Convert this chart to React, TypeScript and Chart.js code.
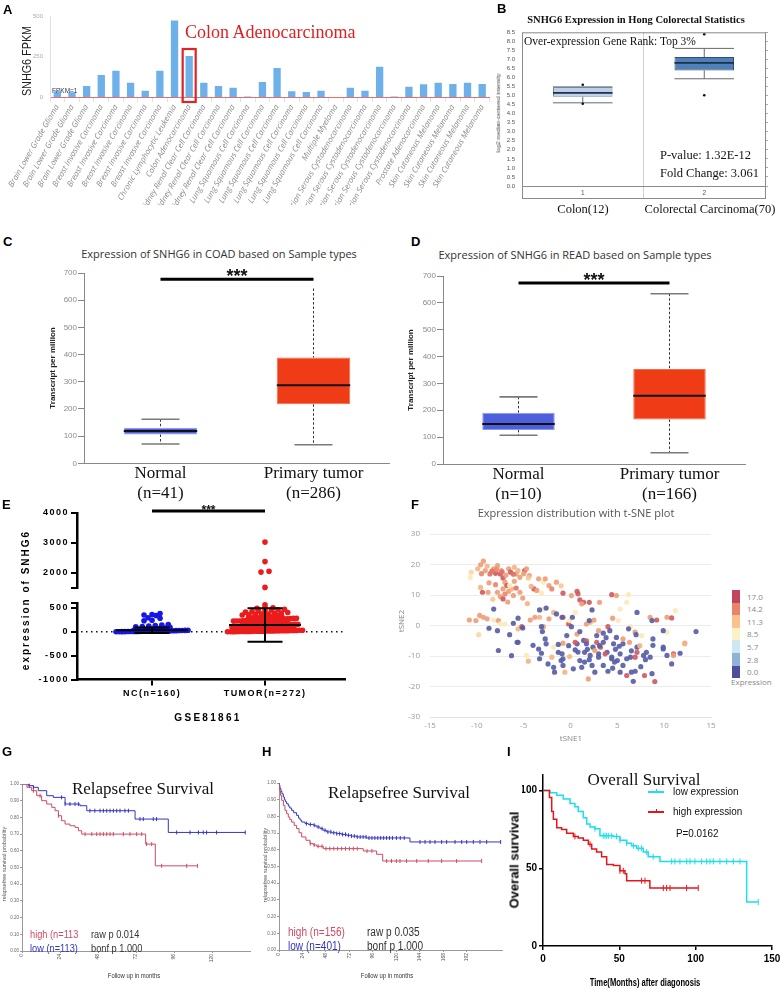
import React, { useEffect, useRef } from 'react';
import { Chart, registerables } from 'chart.js';
Chart.register(...registerables);

const SANS = '"Liberation Sans", Arial, sans-serif';
const SERIF = '"Liberation Serif", "Times New Roman", serif';
const OPEN = '"Open Sans", "Liberation Sans", sans-serif';

/* ---------------- Panel A ---------------- */
const aCategories = [
  'Brain Lower Grade Glioma', 'Brain Lower Grade Glioma', 'Brain Lower Grade Glioma',
  'Breast Invasive Carcinoma', 'Breast Invasive Carcinoma', 'Breast Invasive Carcinoma', 'Breast Invasive Carcinoma', 'Breast Invasive Carcinoma',
  'Chronic Lymphocytic Leukemia', 'Colon Adenocarcinoma',
  'Kidney Renal Clear Cell Carcinoma', 'Kidney Renal Clear Cell Carcinoma', 'Kidney Renal Clear Cell Carcinoma',
  'Lung Squamous Cell Carcinoma', 'Lung Squamous Cell Carcinoma', 'Lung Squamous Cell Carcinoma', 'Lung Squamous Cell Carcinoma', 'Lung Squamous Cell Carcinoma', 'Lung Squamous Cell Carcinoma',
  'Multiple Myeloma',
  'Ovarian Serous Cystadenocarcinoma', 'Ovarian Serous Cystadenocarcinoma', 'Ovarian Serous Cystadenocarcinoma', 'Ovarian Serous Cystadenocarcinoma', 'Ovarian Serous Cystadenocarcinoma',
  'Prostate Adenocarcinoma',
  'Skin Cutaneous Melanoma', 'Skin Cutaneous Melanoma', 'Skin Cutaneous Melanoma', 'Skin Cutaneous Melanoma',
];
const aValues = [35, 30, 68, 136, 162, 88, 39, 162, 472, 253, 88, 68, 57, 3, 93, 179, 35, 31, 39, 0, 57, 39, 187, 3, 63, 78, 88, 80, 88, 80];
const aYTicks = [0, 250, 500];
const aHighlightIndex = 9;

/* ---------------- Panel B ---------------- */
const bGroups = ['1', '2'];
const bQ1 = [4.93, 6.39];
const bQ3 = [5.48, 7.13];
const bMedian = [5.15, 6.81];
const bLowerWhisker = [4.6, 5.93];
const bUpperWhisker = [5.48, 7.61];
const bOutlierHigh = [5.6, 8.39];
const bOutlierLow = [4.55, 5.02];
const bYTicks = [0, 0.5, 1, 1.5, 2, 2.5, 3, 3.5, 4, 4.5, 5, 5.5, 6, 6.5, 7, 7.5, 8, 8.5];

/* ---------------- Panel C ---------------- */
const cGroups = [['Normal', '(n=41)'], ['Primary tumor', '(n=286)']];
const cQ1 = [106, 217];
const cQ3 = [131, 389];
const cMedian = [119, 287];
const cLowerWhisker = [71, 68];
const cUpperWhisker = [162, 643];
const cUpperCap = [true, false];
const cSignificance = 677;

/* ---------------- Panel D ---------------- */
const dGroups = [['Normal', '(n=10)'], ['Primary tumor', '(n=166)']];
const dQ1 = [127, 166];
const dQ3 = [191, 354];
const dMedian = [149, 254];
const dLowerWhisker = [107, 42];
const dUpperWhisker = [250, 634];
const dUpperCap = [true, true];
const dSignificance = 674;
const tpmTicks = [0, 100, 200, 300, 400, 500, 600, 700];

/* ---------------- Panel E ---------------- */
const eGroups = ['NC(n=160)', 'TUMOR(n=272)'];
const eNcValues = [
  380, 360, 350, 340, 290, 280, 240, 230, 150, 140, 130, 120, 110, 100,
  90, 80, 75, 70, 65, 60, 55, 50, 45, 42, 40, 38, 36,
  30, 28, 25, 24, 22, 20, 18, 17, 16, 15, 14, 12, 11, 10, 9, 8, 7, 6, 5, 4, 3, 2, 1, 0, 0,
];
const eTumorValues = [
  3030, 2380, 2060, 2030, 1520,
  560, 500, 495, 490, 470, 460, 450, 440, 430, 420, 410, 400, 390, 380, 370,
  367, 362, 355, 349, 341, 336, 327, 323, 314, 311, 305, 302,
  298, 293, 290, 284, 281, 278, 276, 272, 268, 265, 262, 258, 255, 252, 249, 246, 243, 241, 237, 235,
  233, 231, 228, 225, 223, 221, 216, 213, 207, 204, 199, 196, 191, 187, 183, 178, 176, 171,
  166, 163, 159, 157, 155, 152, 150, 148, 146, 143, 141, 138, 136, 133, 131, 127, 124, 122, 119, 117, 115, 112, 108, 104, 101, 99, 97, 94,
  90, 86, 83, 79, 76, 71, 69, 65, 62, 58, 55, 51, 48, 45, 43, 39, 37, 33, 32,
  31, 29, 27, 26, 24, 22, 21, 19, 17, 16, 14, 13, 12, 11, 10, 9, 8, 7, 6, 5, 4, 3, 2, 1, 0, 0,
];
const eMeans = [30, 140];
const eSDs = [60, 350];
const eTopTicks = [1500, 2000, 3000, 4000];
const eBottomTicks = [-1000, -500, 0, 500, 600];
const eSignificance = 4065;

/* ---------------- Panel F ---------------- */
const fXTicks = [-15, -10, -5, 0, 5, 10, 15];
const fYTicks = [-30, -20, -10, 0, 10, 20, 30];
const fLegendValues = [17.0, 14.2, 11.3, 8.5, 5.7, 2.8, 0.0];
const fLegendColors = ['#c2455c', '#e9846a', '#f8c38c', '#fcf1c4', '#cfe7f1', '#8eb3d6', '#4e4c9c'];
// [tSNE1, tSNE2, expression]
const tsnePoints: number[][] = [
  [-9.3, 21.1, 13], [-9.6, 19.9, 13], [-9.9, 18.6, 12], [-10.6, 17.5, 10], [-10.7, 15.8, 9], [-9.1, 18.0, 13], [-8.6, 16.9, 15], [-8.2, 18.6, 13],
  [-7.8, 19.6, 13], [-8.0, 17.1, 16], [-7.5, 16.9, 16], [-7.4, 18.0, 13], [-7.2, 15.6, 16], [-6.6, 18.6, 13], [-6.4, 17.5, 16], [-6.0, 19.1, 12],
  [-5.8, 16.9, 13], [-5.4, 15.8, 13], [-4.9, 18.0, 16], [-4.7, 18.6, 13], [-4.4, 16.4, 13], [-7.0, 14.2, 13], [-6.8, 13.1, 16], [-7.2, 12.0, 13],
  [-6.6, 11.2, 13], [-6.3, 12.0, 12], [-6.1, 9.8, 13], [-7.5, 9.5, 13], [-7.8, 10.9, 13], [-8.8, 10.9, 13], [-9.4, 10.9, 16], [-7.2, 8.7, 16],
  [-6.5, 13.1, 9], [-5.4, 10.9, 13], [-5.1, 9.0, 13], [-3.9, 12.0, 16], [-3.4, 15.3, 13], [-2.9, 14.2, 9], [-2.7, 15.3, 13], [-2.3, 13.1, 13],
  [-3.1, 10.6, 9], [-1.5, 14.2, 13], [-0.8, 10.6, 16], [0.1, 9.8, 13], [0.7, 11.2, 16], [0.8, 10.4, 16], [1.0, 8.4, 16], [1.4, 7.6, 16],
  [2.0, 7.6, 16], [1.2, 7.1, 13], [3.1, 7.6, 13], [4.4, 10.1, 16], [4.9, 9.8, 13], [6.2, 10.1, 9], [6.0, 7.6, 9], [5.3, 5.4, 9],
  [-9.5, 17.0, 14], [-8.9, 19.5, 12], [-8.4, 17.8, 15], [-7.9, 18.3, 14], [-7.3, 17.6, 15], [-6.9, 16.5, 13], [-6.1, 16.8, 15], [-5.6, 18.0, 12],
  [-5.0, 17.0, 13], [-4.5, 15.6, 11], [-8.7, 14.0, 13], [-9.6, 12.5, 12], [-8.0, 13.4, 14], [-6.0, 14.5, 13], [-4.2, 12.8, 12], [-3.6, 11.5, 13],
  [-5.8, 12.3, 15], [-7.0, 10.3, 14], [-8.3, 8.6, 11], [-6.7, 7.7, 13], [-4.6, 7.2, 12], [-2.0, 12.0, 14], [-1.0, 13.0, 11],
  [-10.8, 1.8, 13], [-10.1, 1.6, 13], [-9.7, 3.3, 13], [-9.3, 2.7, 13], [-9.8, -3.0, 10], [-8.9, 2.2, 13], [-8.2, 1.8, 9], [-7.7, 1.6, 13],
  [-7.5, 0.5, 9], [-7.0, 0.5, 9], [-5.6, -1.1, 12], [-5.2, -0.4, 16], [-4.3, 1.8, 13], [-3.8, 2.7, 13], [-3.3, 2.7, 12], [-2.9, -0.4, 13],
  [-2.3, 2.2, 13], [-2.9, 5.4, 9], [-1.8, 4.3, 12], [-0.8, 2.7, 16], [-0.2, 0.5, 16], [-0.1, 1.6, 9], [0.5, 4.3, 9], [1.7, 0.5, 13],
  [2.1, 1.1, 12], [2.5, 1.8, 13], [3.0, -1.7, 13], [4.0, -0.4, 16], [4.5, 2.4, 13], [5.1, 1.6, 9], [6.4, -0.4, 9], [7.6, -3.3, 9],
  [6.9, -2.2, 13], [8.5, 2.7, 13], [9.2, 1.8, 16], [10.3, 2.7, 13], [10.8, 2.5, 16], [11.2, 4.9, 9], [10.3, -2.2, 9], [12.2, -5.8, 13],
  [-8.2, 5.4, 0.5], [-8.7, -0.9, 0.5], [-7.8, -1.7, 0.5], [-6.1, 0.7, 0.5], [-5.6, 2.4, 0.5], [-5.1, -0.8, 0.5], [-3.3, 5.1, 0.5], [-2.6, 5.7, 0.5],
  [-3.1, -0.4, 0.5], [-1.5, 3.8, 0.5], [-0.9, 2.7, 0.5], [0.2, 2.7, 0.5], [0.1, -0.4, 0.5], [2.3, 5.1, 0.5], [2.0, 1.6, 0.5], [4.2, -1.7, 0.5],
  [7.1, 4.3, 0.5], [8.7, 1.6, 0.5], [6.2, -1.1, 0.5], [8.8, -4.4, 0.5], [9.9, -1.7, 0.5], [13.4, -2.0, 0.5], [-2.7, -4.4, 0.5], [-5.6, -5.5, 0.5],
  [-7.7, -8.2, 0.5], [-6.3, -9.9, 0.5], [-3.4, -7.7, 0.5], [-1.3, -8.8, 0.5], [-0.4, -3.3, 0.5], [0.7, -6.0, 0.5], [1.4, -4.9, 0.5], [2.8, -3.3, 0.5],
  [3.5, -5.5, 0.5], [4.9, -3.9, 0.5], [5.6, -6.0, 0.5], [7.1, -7.1, 0.5], [8.1, -8.8, 0.5], [9.9, -7.7, 0.5], [2.4, -7.1, 0.5], [1.5, -8.8, 0.5],
  [3.0, -9.3, 0.5], [3.9, -8.8, 0.5], [4.4, -10.4, 0.5], [6.4, -10.4, 0.5],
  [-0.8, -5.8, 13], [0.7, -2.8, 13], [1.7, -5.0, 16], [3.2, -7.1, 16], [5.6, -4.4, 13], [7.1, -8.8, 16], [-1.8, -7.1, 9], [11.0, -9.3, 16],
  [-2.6, -6.0, 0.5], [-1.3, -6.2, 0.5], [-0.2, -6.6, 0.5], [0.5, -5.5, 16], [1.7, -6.0, 0.5], [2.8, -5.5, 16], [3.1, -6.6, 0.5], [4.6, -6.0, 0.5],
  [6.3, -5.5, 13], [7.4, -6.6, 12], [9.9, -7.1, 0.5], [12.2, -6.0, 12], [-3.1, -9.1, 0.5], [-2.0, -10.4, 12], [-0.9, -9.3, 0.5], [-0.1, -10.2, 12],
  [0.8, -8.7, 0.5], [2.1, -9.8, 0.5], [2.6, -8.2, 13], [3.0, -10.4, 0.5], [3.7, -9.3, 16], [4.4, -10.9, 0.5], [5.3, -9.3, 0.5], [6.0, -10.9, 0.5],
  [6.9, -10.4, 16], [7.8, -9.8, 0.5], [8.5, -10.4, 0.5], [10.8, -12.6, 0.5], [11.0, -9.8, 13], [11.7, -9.1, 0.5], [-4.5, -11.7, 12], [-3.3, -10.9, 0.5],
  [-2.4, -12.6, 0.5], [-1.8, -13.7, 0.5], [-0.8, -13.1, 0.5], [-1.7, -15.3, 0.5], [-0.6, -15.3, 12], [0.3, -14.2, 0.5], [1.2, -13.7, 0.5], [1.5, -12.0, 0.5],
  [2.3, -13.1, 0.5], [1.9, -17.5, 13], [2.6, -15.3, 0.5], [3.5, -13.1, 0.5], [4.0, -15.0, 0.5], [4.7, -12.0, 0.5], [5.6, -13.1, 0.5], [5.3, -15.3, 0.5],
  [6.0, -16.4, 16], [6.5, -15.3, 0.5], [6.9, -15.0, 0.5], [6.7, -18.3, 0.5], [7.9, -16.4, 16], [8.7, -15.8, 0.5], [9.0, -18.4, 16], [10.3, -9.8, 0.5],
  [-4.7, -9.8, 9], [-0.8, -10.9, 0.5], [-5.7, -5.5, 0.5],
  [1.0, -11.5, 0.5], [5.0, -11.5, 0.5], [7.5, -13.5, 0.5], [8.0, -11.2, 0.5], [4.5, -14.0, 0.5], [-1.0, -11.5, 0.5], [0.5, -8.0, 0.5], [1.8, -7.8, 0.5],
  [4.8, -7.8, 0.5], [6.5, -8.3, 0.5], [5.2, -6.8, 0.5], [8.8, -6.5, 0.5], [-4.0, -6.5, 0.5], [-6.5, -3.0, 0.5], [-3.0, -2.0, 0.5], [1.0, -2.0, 0.5],
  [3.5, -2.5, 0.5], [7.0, -3.0, 0.5], [3.8, -4.0, 0.5], [2.0, -11.2, 0.5],
];

/* ---------------- Panel G ---------------- */
const gLowTimes = [0, 4, 7.2, 10.3, 15.6, 19.8, 27.2, 36.6, 40.9, 71.4, 92.4, 141];
const gLowSurv = [1.0, 0.99, 0.98, 0.96, 0.93, 0.92, 0.88, 0.87, 0.84, 0.79, 0.71, 0.71];
const gHighTimes = [0, 3.1, 6.1, 9.3, 12.4, 15.6, 18.8, 20.9, 23, 25, 27.2, 30.3, 33.5, 35.6, 37.7, 78.1, 84.2, 110.9];
const gHighSurv = [1.0, 0.98, 0.96, 0.93, 0.9, 0.88, 0.86, 0.84, 0.81, 0.78, 0.76, 0.75, 0.74, 0.72, 0.7, 0.64, 0.51, 0.51];
const gLowCensor = [4.6, 7.2, 25, 27.2, 30.3, 33.5, 35.6, 42.9, 46, 49.3, 51.4, 53.5, 55.6, 57.7, 59.8, 61.9, 65, 67.2, 74.5, 76.6, 82.9, 85, 97.7, 106.1, 111.4, 114.5, 116.6, 122.9, 141];
const gHighCensor = [7.2, 11.4, 23, 39.8, 44.1, 47.2, 49.3, 51.4, 53.5, 55.6, 57.7, 64, 68.2, 72.4, 75.6, 78.7, 81.9, 88.2, 104, 110.9];
const gXTicks = [0, 24, 48, 72, 96, 120];

/* ---------------- Panel H ---------------- */
const hLowTimes = [0, 0.5, 1, 2, 3, 4.4, 5.5, 6.5, 7.8, 9.5, 11, 12.9, 15, 18, 20, 21.5, 23.2, 26.6, 30, 35.1, 38, 41.9, 45, 48.7, 54, 59, 64, 69.2, 74, 79.4, 89.6, 133.9, 226.6];
const hLowSurv = [1.0, 0.985, 0.966, 0.95, 0.935, 0.916, 0.9, 0.888, 0.876, 0.862, 0.85, 0.836, 0.822, 0.806, 0.79, 0.778, 0.766, 0.757, 0.752, 0.747, 0.737, 0.727, 0.717, 0.707, 0.702, 0.697, 0.692, 0.687, 0.682, 0.677, 0.671, 0.647, 0.647];
const hHighTimes = [0, 0.3, 1.5, 2.7, 4.5, 6.1, 7.8, 9.5, 11, 12.9, 15.5, 18, 20.5, 23.2, 27.5, 31.7, 35, 38.5, 45.3, 86.2, 99.8, 106, 207.2];
const hHighSurv = [1.0, 0.956, 0.926, 0.896, 0.866, 0.836, 0.816, 0.796, 0.781, 0.766, 0.746, 0.727, 0.702, 0.677, 0.657, 0.637, 0.629, 0.621, 0.607, 0.593, 0.573, 0.533, 0.533];
const hLowCensor = [28, 32, 36, 40, 44, 47, 50, 53, 56, 59, 62, 65, 68, 71, 74, 77, 80, 83, 86, 89, 92, 95, 98, 101, 104, 107, 110, 113, 116, 120, 124, 128, 144.2, 149.3, 154.4, 159.5, 166.3, 171.4, 180, 186.8, 191.9, 198.7, 205.5, 212.3, 226.6];
const hHighCensor = [32, 36, 40, 44, 48, 52, 56, 60, 64, 68, 72, 76, 80, 90, 95, 110, 115, 120, 123.7, 130.4, 140.8, 152.6, 166.3, 181.6, 207.2];
const hXTicks = [0, 24, 48, 72, 96, 120, 144, 168, 192];
const kmYTicks = [0, 0.1, 0.2, 0.3, 0.4, 0.5, 0.6, 0.7, 0.8, 0.9, 1.0];

/* ---------------- Panel I ---------------- */
const iLowTimes = [0, 1.3, 4.6, 9, 13.3, 17.7, 20.9, 23.1, 26.4, 28.6, 30.8, 34, 37.3, 46.1, 50.4, 54.8, 58, 61.3, 65.7, 68.9, 76.6, 133.4, 141];
const iLowSurv = [100, 100, 98.6, 97, 94.6, 91.6, 89.6, 86.5, 82.5, 78.5, 76.5, 75.5, 70.9, 70.5, 68.1, 66.1, 64.5, 62.9, 60.4, 57.4, 54.4, 28.3, 28.3];
const iHighTimes = [0, 4.2, 5.7, 6.8, 9, 12.2, 15.5, 19.9, 23.1, 26.4, 29.7, 31.9, 35.1, 38.4, 41.7, 46.1, 50.4, 53.7, 54.8, 70, 101.7];
const iHighSurv = [100, 95.6, 86.5, 81.5, 76.1, 74.9, 72.5, 70.5, 69.5, 68.1, 65.5, 62.4, 60.4, 57.4, 52.4, 51.8, 48.4, 46.4, 42, 37.3, 37.3];
const iLowCensor = [34, 39.5, 40.6, 41.7, 42.8, 45, 48.2, 50.4, 54.8, 59.2, 62.4, 64.6, 67.9, 72.2, 84.3, 86.4, 89.7, 94.1, 96.3, 99.5, 103.9, 107.2, 109.4, 111.6, 115.9, 120.3, 124.7, 129, 141];
const iHighCensor = [20.9, 30.8, 50.4, 52.6, 64.6, 66.8, 78.8, 81, 83.2, 94.1, 101.7];
const iXTicks = [0, 50, 100, 150];
const iYTicks = [0, 50, 100];

/* ---------------- helpers ---------------- */
const fixY = (w: number) => (s: any) => { s.width = w; s.paddingTop = 0; s.paddingBottom = 0; };
const fixX = (h: number) => (s: any) => { s.height = h; s.paddingLeft = 0; s.paddingRight = 0; };
const setTicks = (vals: number[]) => (s: any) => { s.ticks = vals.map((v) => ({ value: v })); };
const NO_GRID = { display: false, drawTicks: false };

function baseOptions(padding: any, scales: any) {
  return {
    responsive: false,
    animation: false,
    events: [],
    layout: { padding },
    plugins: { legend: { display: false }, tooltip: { enabled: false } },
    scales,
  };
}

function boxWhiskerPlugin(o: any) {
  return {
    id: 'boxWhisker',
    beforeDatasetsDraw(chart: any) {
      const ctx = chart.ctx, ys = chart.scales.y;
      chart.getDatasetMeta(0).data.forEach((bar: any, i: number) => {
        const top = Math.min(bar.y, bar.base), bottom = Math.max(bar.y, bar.base);
        const hi = ys.getPixelForValue(o.upper[i]), lo = ys.getPixelForValue(o.lower[i]);
        const half = o.capHalf == null ? bar.width / 2 : o.capHalf;
        ctx.save();
        ctx.strokeStyle = o.whiskerColor; ctx.lineWidth = o.whiskerWidth; ctx.setLineDash(o.dash);
        ctx.beginPath();
        ctx.moveTo(bar.x, hi); ctx.lineTo(bar.x, top);
        ctx.moveTo(bar.x, bottom); ctx.lineTo(bar.x, lo);
        ctx.stroke();
        ctx.setLineDash([]);
        ctx.strokeStyle = o.capColor; ctx.lineWidth = o.capWidth;
        ctx.beginPath();
        if (!o.upperCap || o.upperCap[i]) { ctx.moveTo(bar.x - half, hi); ctx.lineTo(bar.x + half, hi); }
        ctx.moveTo(bar.x - half, lo); ctx.lineTo(bar.x + half, lo);
        ctx.stroke();
        ctx.restore();
      });
    },
    afterDatasetsDraw(chart: any) {
      const ctx = chart.ctx, ys = chart.scales.y;
      chart.getDatasetMeta(0).data.forEach((bar: any, i: number) => {
        const m = ys.getPixelForValue(o.median[i]);
        ctx.save();
        ctx.strokeStyle = o.medianColor; ctx.lineWidth = o.medianWidth;
        ctx.beginPath(); ctx.moveTo(bar.x - bar.width / 2, m); ctx.lineTo(bar.x + bar.width / 2, m); ctx.stroke();
        ctx.restore();
      });
    },
  };
}

function sigPlugin(o: any) {
  return {
    id: 'sig',
    afterDraw(chart: any) {
      const ctx = chart.ctx;
      const x0 = chart.scales.x.getPixelForValue(0), x1 = chart.scales.x.getPixelForValue(1);
      const y = chart.scales.y.getPixelForValue(o.value);
      ctx.save();
      ctx.strokeStyle = '#000'; ctx.lineWidth = o.lineWidth;
      ctx.beginPath(); ctx.moveTo(x0, y); ctx.lineTo(x1, y); ctx.stroke();
      ctx.fillStyle = '#111'; ctx.font = o.font; ctx.textAlign = 'center'; ctx.textBaseline = 'alphabetic';
      ctx.fillText(o.text, (x0 + x1) / 2, y + o.dy);
      ctx.restore();
    },
  };
}

const letterSpacingPlugin = (sp: string) => ({
  id: 'ls',
  beforeDraw(c: any) { c.ctx.letterSpacing = sp; },
  afterDraw(c: any) { c.ctx.letterSpacing = '0px'; },
});

// Column-scatter layout: values are grouped in rows of ~3px and spread sideways around the group centre.
function dotColumn(values: number[], center: number, yUnitsPerPx: number, xUnitsPerPx: number) {
  const binU = 3 * yUnitsPerPx;
  const bins = new Map<number, number[]>();
  values.forEach((v) => {
    const b = Math.floor(v / binU + 0.5);
    if (!bins.has(b)) bins.set(b, []);
    (bins.get(b) as number[]).push(v);
  });
  const out: { x: number; y: number }[] = [];
  bins.forEach((vs) => {
    const n = vs.length;
    const sp = (n <= 3 ? 8 : n <= 8 ? 6.5 : 3) * xUnitsPerPx;
    vs.sort((a, b) => a - b).forEach((v, i) => out.push({ x: center + (i - (n - 1) / 2) * sp, y: v }));
  });
  return out;
}

function hexToRgb(h: string) { const n = parseInt(h.slice(1), 16); return [(n >> 16) & 255, (n >> 8) & 255, n & 255]; }
function tsneColor(e: number) {
  const vs = fLegendValues, cs = fLegendColors;
  if (e >= vs[0]) { const c = hexToRgb(cs[0]); return `rgba(${c[0]},${c[1]},${c[2]},0.92)`; }
  for (let i = 0; i < vs.length - 1; i++) {
    const hi = vs[i], lo = vs[i + 1];
    if (e >= lo) {
      const t = (e - lo) / (hi - lo);
      const a = hexToRgb(cs[i + 1]), b = hexToRgb(cs[i]);
      const m = a.map((v, k) => Math.round(v + (b[k] - v) * t));
      return `rgba(${m[0]},${m[1]},${m[2]},0.92)`;
    }
  }
  const c = hexToRgb(cs[cs.length - 1]);
  return `rgba(${c[0]},${c[1]},${c[2]},0.92)`;
}

function stepAt(ts: number[], ss: number[], t: number) {
  let s = ss[0];
  for (let i = 0; i < ts.length; i++) if (ts[i] <= t) s = ss[i];
  return s;
}
const kmLine = (ts: number[], ss: number[]) => ts.map((t, i) => ({ x: t, y: ss[i] }));
const kmCensor = (ts: number[], ss: number[], cs: number[]) => cs.map((t) => ({ x: t, y: stepAt(ts, ss, t) }));

function kmDatasets(lowT: number[], lowS: number[], lowC: number[], highT: number[], highS: number[], highC: number[], lowColor: string, highColor: string, lw: number, cr: number) {
  return [
    { data: kmLine(highT, highS), showLine: true, stepped: true, borderColor: highColor, borderWidth: lw, pointRadius: 0, fill: false },
    { data: kmLine(lowT, lowS), showLine: true, stepped: true, borderColor: lowColor, borderWidth: lw, pointRadius: 0, fill: false },
    { data: kmCensor(highT, highS, highC), pointStyle: 'line', pointRotation: 90, pointRadius: cr, pointBorderColor: highColor, pointBorderWidth: 1, clip: false },
    { data: kmCensor(lowT, lowS, lowC), pointStyle: 'line', pointRotation: 90, pointRadius: cr, pointBorderColor: lowColor, pointBorderWidth: 1, clip: false },
  ];
}

/* ---------------- chart configs ---------------- */
function configA() {
  const highlight = {
    id: 'highlight',
    afterDatasetsDraw(chart: any) {
      const el = chart.getDatasetMeta(0).data[aHighlightIndex];
      const ctx = chart.ctx;
      ctx.save();
      ctx.strokeStyle = '#e02424'; ctx.lineWidth = 2.2;
      ctx.strokeRect(el.x - 6.5, el.y - 7, 13, el.base - el.y + 12);
      ctx.restore();
    },
  };
  return {
    type: 'bar',
    data: { labels: aCategories, datasets: [{ data: aValues, backgroundColor: '#6eb1ea', barPercentage: 0.5, categoryPercentage: 1 }] },
    options: baseOptions({ left: 20, top: 16, right: 2.5, bottom: 0 }, {
      x: {
        afterFit: fixX(108),
        ticks: { autoSkip: false, minRotation: 60, maxRotation: 60, padding: 1, color: '#8c8c8c', font: { family: OPEN, size: 8, style: 'italic' } },
        grid: { drawOnChartArea: false, tickLength: 5, color: '#e2e2e2', offset: true },
        border: { color: '#e07070', dash: [2, 2], width: 1 },
      },
      y: {
        min: 0, max: 500, afterFit: fixY(30), afterBuildTicks: setTicks(aYTicks),
        ticks: { autoSkip: false, padding: 7, color: '#aaa', font: { family: SANS, size: 6 } },
        grid: NO_GRID, border: { color: '#dde3ea' },
      },
    }),
    plugins: [highlight],
  };
}

function configB() {
  const frame = {
    id: 'frame',
    afterDraw(chart: any) {
      const { left, right, top, bottom } = chart.chartArea;
      const ctx = chart.ctx;
      const mid = (chart.scales.x.getPixelForValue(0) + chart.scales.x.getPixelForValue(1)) / 2;
      ctx.save();
      ctx.strokeStyle = '#d0d0d0'; ctx.lineWidth = 1;
      ctx.beginPath(); ctx.moveTo(mid, top); ctx.lineTo(mid, bottom + 12); ctx.stroke();
      ctx.strokeStyle = '#8a8a8a';
      ctx.strokeRect(left + 0.5, top + 0.5, right - left, bottom + 12 - top);
      ctx.beginPath(); ctx.moveTo(left, bottom + 0.5); ctx.lineTo(right, bottom + 0.5); ctx.stroke();
      ctx.restore();
    },
  };
  return {
    type: 'bar',
    data: {
      labels: bGroups,
      datasets: [
        { type: 'bar', data: bQ1.map((q, i) => [q, bQ3[i]]), backgroundColor: ['#bccfe6', '#4f80b8'], borderColor: ['#7088a6', '#2e4e76'], borderWidth: 1, borderSkipped: false, barPercentage: 0.49, categoryPercentage: 1 },
        { type: 'line', data: bOutlierHigh, showLine: false, pointRadius: 1.3, pointBackgroundColor: '#111', pointBorderWidth: 0 },
        { type: 'line', data: bOutlierLow, showLine: false, pointRadius: 1.3, pointBackgroundColor: '#111', pointBorderWidth: 0 },
      ],
    },
    options: baseOptions({ left: 22, top: 18.3, right: 11, bottom: 0 }, {
      x: { offset: true, afterFit: fixX(18), ticks: { padding: 3, color: '#555', font: { family: SANS, size: 6.5 } }, grid: NO_GRID, border: { display: false } },
      y: {
        min: 0, max: 8.5, afterFit: fixY(30), afterBuildTicks: setTicks(bYTicks),
        ticks: { autoSkip: false, padding: 7, color: '#555', font: { family: SANS, size: 6 }, callback: (v: any) => Number(v).toFixed(1) },
        grid: NO_GRID, border: { display: false },
      },
      y2: {
        position: 'right', min: 0, max: 8.5, afterFit: fixY(4), afterBuildTicks: setTicks(bYTicks),
        ticks: { display: false, autoSkip: false }, grid: { drawOnChartArea: false, tickLength: 3, color: '#aaa' }, border: { display: false },
      },
    }),
    plugins: [frame, boxWhiskerPlugin({ upper: bUpperWhisker, lower: bLowerWhisker, median: bMedian, capHalf: null, whiskerColor: '#6a6a6a', whiskerWidth: 1, dash: [], capColor: '#6a6a6a', capWidth: 1, medianColor: '#1d2f4a', medianWidth: 1.6 })],
  };
}

function configTpm(groups: any, q1: number[], q3: number[], med: number[], lo: number[], hi: number[], upperCap: boolean[], sig: number, padding: any, yW: number, xH: number) {
  return {
    type: 'bar',
    data: {
      labels: groups,
      datasets: [{ data: q1.map((q, i) => [q, q3[i]]), backgroundColor: ['#4f5fdc', '#f03c16'], borderColor: ['#8d9af2', '#f46b4a'], borderWidth: 1, borderSkipped: false, barPercentage: 0.48, categoryPercentage: 1 }],
    },
    options: baseOptions(padding, {
      x: { offset: true, afterFit: fixX(xH), ticks: { padding: 0, color: '#111', font: { family: SERIF, size: 17, lineHeight: 1.2 } }, grid: NO_GRID, border: { color: '#888' } },
      y: {
        min: 0, max: 700, afterFit: fixY(yW), afterBuildTicks: setTicks(tpmTicks),
        ticks: { autoSkip: false, padding: 1, color: '#8a8a8a', font: { family: SANS, size: 8 } },
        grid: { drawOnChartArea: false, tickLength: 6, color: '#888' }, border: { color: '#888' },
      },
    }),
    plugins: [
      boxWhiskerPlugin({ upper: hi, lower: lo, median: med, upperCap, capHalf: 19, whiskerColor: '#333', whiskerWidth: 1, dash: [2.5, 2], capColor: '#7a7a7a', capWidth: 1.6, medianColor: '#111', medianWidth: 2 }),
      sigPlugin({ value: sig, text: '***', font: `bold 18px ${SANS}`, lineWidth: 3, dy: 3 }),
    ],
  };
}

const E_X_MIN = -0.664, E_X_MAX = 1.708, E_PLOT_W = 268, E_PLOT_H = 76.5;
const E_TOP_RANGE = [1500, 4000], E_BOT_RANGE = [-1000, 600];
const eXPerPx = (E_X_MAX - E_X_MIN) / E_PLOT_W;

function eScaleY(range: number[], ticks: number[], hideVal: number) {
  return {
    min: range[0], max: range[1], afterFit: fixY(57), afterBuildTicks: setTicks(ticks),
    ticks: { autoSkip: false, padding: 2, color: '#000', font: { family: SANS, size: 9, weight: 'bold' }, callback: (v: any) => (v === hideVal ? '' : String(v)) },
    grid: { drawOnChartArea: false, tickLength: 6, color: '#000', lineWidth: 2 },
    border: { color: '#000', width: 2.5 },
  };
}

function configETop() {
  const yPerPx = (E_TOP_RANGE[1] - E_TOP_RANGE[0]) / E_PLOT_H;
  const tumorHigh = dotColumn(eTumorValues.filter((v) => v >= 1500), 1, yPerPx, eXPerPx);
  return {
    type: 'scatter',
    data: { datasets: [{ data: tumorHigh, pointRadius: 2.8, backgroundColor: '#ec1c1c', borderWidth: 0, clip: false }] },
    options: baseOptions({ left: 20, top: 15, right: 15, bottom: 2.5 }, {
      x: { type: 'linear', min: E_X_MIN, max: E_X_MAX, display: false },
      y: eScaleY(E_TOP_RANGE, eTopTicks, 1500),
    }),
    plugins: [letterSpacingPlugin('1.5px'), sigPlugin({ value: eSignificance, text: '***', font: `bold 12px ${SANS}`, lineWidth: 3, dy: 2.5 })],
  };
}

function configEBottom() {
  const yPerPx = (E_BOT_RANGE[1] - E_BOT_RANGE[0]) / E_PLOT_H;
  const nc = dotColumn(eNcValues, 0, yPerPx, eXPerPx);
  const tumor = dotColumn(eTumorValues.filter((v) => v < 1500), 1, yPerPx, eXPerPx);
  const extras = {
    id: 'eExtras',
    beforeDatasetsDraw(chart: any) {
      const ctx = chart.ctx, y0 = chart.scales.y.getPixelForValue(0);
      ctx.save(); ctx.strokeStyle = '#111'; ctx.lineWidth = 1.6; ctx.setLineDash([1.5, 3.5]);
      ctx.beginPath(); ctx.moveTo(chart.chartArea.left + 4, y0); ctx.lineTo(chart.chartArea.right - 2, y0); ctx.stroke();
      ctx.restore();
    },
    afterDatasetsDraw(chart: any) {
      const ctx = chart.ctx, xs = chart.scales.x, ys = chart.scales.y;
      ctx.save(); ctx.strokeStyle = '#000'; ctx.lineWidth = 2;
      eMeans.forEach((m, i) => {
        const x = xs.getPixelForValue(i);
        const meanHalf = 36, capHalf = 17.5;
        const ym = ys.getPixelForValue(m), yh = ys.getPixelForValue(m + eSDs[i]), yl = ys.getPixelForValue(m - eSDs[i]);
        ctx.beginPath();
        ctx.moveTo(x - meanHalf, ym); ctx.lineTo(x + meanHalf, ym);
        ctx.moveTo(x, yh); ctx.lineTo(x, yl);
        ctx.moveTo(x - capHalf, yh); ctx.lineTo(x + capHalf, yh);
        ctx.moveTo(x - capHalf, yl); ctx.lineTo(x + capHalf, yl);
        ctx.stroke();
      });
      ctx.restore();
    },
  };
  return {
    type: 'scatter',
    data: {
      datasets: [
        { data: nc, pointRadius: 2.8, backgroundColor: '#1616e6', borderWidth: 0, clip: false },
        { data: tumor, pointRadius: 2.8, backgroundColor: '#ec1c1c', borderWidth: 0, clip: false },
      ],
    },
    options: baseOptions({ left: 20, top: 7, right: 15, bottom: 0 }, {
      x: {
        type: 'linear', min: E_X_MIN, max: E_X_MAX, afterFit: fixX(22.5), afterBuildTicks: setTicks([0, 1]),
        ticks: { padding: 3, color: '#000', font: { family: SANS, size: 9, weight: 'bold' }, callback: (v: any) => eGroups[v] },
        grid: { drawOnChartArea: false, tickLength: 6, color: '#000', lineWidth: 2 },
        border: { color: '#000', width: 2.5 },
      },
      y: eScaleY(E_BOT_RANGE, eBottomTicks, 600),
    }),
    plugins: [letterSpacingPlugin('1.5px'), extras],
  };
}

function configF() {
  return {
    type: 'scatter',
    data: {
      datasets: [{
        data: tsnePoints.map((p) => ({ x: p[0], y: p[1], e: p[2] })),
        backgroundColor: (c: any) => tsneColor(c.raw ? c.raw.e : 0),
        pointRadius: 2.6, borderWidth: 0,
      }],
    },
    options: baseOptions({ left: 14, top: 9, right: 19, bottom: 0 }, {
      x: {
        min: -15, max: 15, afterFit: fixX(23), afterBuildTicks: setTicks(fXTicks),
        ticks: { autoSkip: false, padding: 4, color: '#999', font: { family: OPEN, size: 8 } },
        grid: NO_GRID, border: { color: '#e2e2e2' },
      },
      y: {
        min: -30, max: 30, afterFit: fixY(26), afterBuildTicks: setTicks(fYTicks),
        ticks: { autoSkip: false, padding: 10, color: '#999', font: { family: OPEN, size: 8 } },
        grid: { color: '#ececec', drawTicks: false }, border: { display: false },
      },
    }),
  };
}

function kmScales(xMax: number, xTicks: number[], xH: number, yW: number) {
  return {
    x: {
      type: 'linear', min: 0, max: xMax, afterFit: fixX(xH), afterBuildTicks: setTicks(xTicks),
      ticks: { autoSkip: false, minRotation: 90, maxRotation: 90, padding: 1, color: '#555', font: { family: SANS, size: 5 } },
      grid: { drawOnChartArea: false, tickLength: 2, color: '#999' }, border: { color: '#999' },
    },
    y: {
      min: 0, max: 1, afterFit: fixY(yW), afterBuildTicks: setTicks(kmYTicks),
      ticks: { autoSkip: false, padding: 1, color: '#666', font: { family: SANS, size: 4.5 }, callback: (v: any) => Number(v).toFixed(2) },
      grid: { drawOnChartArea: false, tickLength: 2, color: '#999' }, border: { color: '#999' },
    },
  };
}

const KM_RED = '#cf4a62';
const KM_BLUE = '#3434c4';

function configG() {
  return {
    type: 'scatter',
    data: { datasets: kmDatasets(gLowTimes, gLowSurv, gLowCensor, gHighTimes, gHighSurv, gHighCensor, KM_BLUE, KM_RED, 1, 2) },
    options: baseOptions({ left: 2, top: 14, right: 12, bottom: 0 }, kmScales(144, gXTicks, 41, 20)),
  };
}

function configH() {
  return {
    type: 'scatter',
    data: { datasets: kmDatasets(hLowTimes, hLowSurv, hLowCensor, hHighTimes, hHighSurv, hHighCensor, KM_BLUE, KM_RED, 1, 2) },
    options: baseOptions({ left: 2, top: 13, right: 18, bottom: 0 }, kmScales(228, hXTicks, 42, 15)),
  };
}

function configI() {
  return {
    type: 'scatter',
    data: { datasets: kmDatasets(iLowTimes, iLowSurv, iLowCensor, iHighTimes, iHighSurv, iHighCensor, '#19dfee', '#e3161c', 1.5, 3) },
    options: baseOptions({ left: 12, top: 10, right: 8, bottom: 0 }, {
      x: {
        type: 'linear', min: 0, max: 150, afterFit: fixX(46), afterBuildTicks: setTicks(iXTicks),
        ticks: { autoSkip: false, padding: 3, color: '#000', font: { family: SANS, size: 10, weight: 'bold' } },
        grid: { drawOnChartArea: false, tickLength: 4, color: '#000', lineWidth: 1.5 }, border: { color: '#000', width: 1.5 },
      },
      y: {
        min: 0, max: 110, afterFit: fixY(21), afterBuildTicks: setTicks(iYTicks),
        ticks: { autoSkip: false, padding: 2, color: '#000', font: { family: SANS, size: 10, weight: 'bold' } },
        grid: { drawOnChartArea: false, tickLength: 4, color: '#000', lineWidth: 1.5 }, border: { color: '#000', width: 1.5 },
      },
    }),
  };
}

/* ---------------- components ---------------- */
function ChartCanvas({ x, y, w, h, make }: any) {
  const ref = useRef<HTMLCanvasElement>(null);
  useEffect(() => {
    const chart = new Chart(ref.current as any, make());
    return () => chart.destroy();
  }, []);
  return (
    <div style={{ position: 'absolute', left: x, top: y, width: w, height: h }}>
      <canvas ref={ref} width={w} height={h} style={{ display: 'block', width: w, height: h }} />
    </div>
  );
}

// c: centred; rot: rotated -90deg; sx: horizontal compression of the glyphs
function Label({ x, y, c = false, rot = false, sx = 1, s = {}, children }: any) {
  let tr = (c || rot ? 'translate(-50%,-50%)' : 'translate(0,-50%)') + (rot ? ' rotate(-90deg)' : '');
  if (sx !== 1) tr += ` scaleX(${sx})`;
  const origin = c || rot ? 'center center' : 'left center';
  return (
    <div style={{ position: 'absolute', left: x, top: y, transform: tr, transformOrigin: origin, whiteSpace: 'nowrap', lineHeight: 1, ...s }}>{children}</div>
  );
}

const letter = { fontFamily: SANS, fontWeight: 'bold', fontSize: 13, color: '#000' };

export default function App() {
  return (
    <div style={{ position: 'absolute', left: 0, top: 0, width: 780, height: 992, background: '#fff', overflow: 'hidden' }}>
      <ChartCanvas x={0} y={0} w={492} h={205} make={configA} />
      <ChartCanvas x={470} y={14} w={310} h={190} make={configB} />
      <ChartCanvas x={0} y={265} w={390} h={240} make={() => configTpm(cGroups, cQ1, cQ3, cMedian, cLowerWhisker, cUpperWhisker, cUpperCap, cSignificance, { left: 40, top: 8, right: 0, bottom: 0 }, 44, 41.7)} />
      <ChartCanvas x={390} y={265} w={390} h={240} make={() => configTpm(dGroups, dQ1, dQ3, dMedian, dLowerWhisker, dUpperWhisker, dUpperCap, dSignificance, { left: 9, top: 11, right: 35, bottom: 0 }, 44, 41)} />
      <ChartCanvas x={0} y={498} w={360} h={94} make={configETop} />
      <ChartCanvas x={0} y={596} w={360} h={106} make={configEBottom} />
      <ChartCanvas x={390} y={525} w={340} h={215} make={configF} />
      <ChartCanvas x={0} y={770} w={262} h={222} make={configG} />
      <ChartCanvas x={262} y={770} w={258} h={222} make={configH} />
      <ChartCanvas x={510} y={765} w={270} h={227} make={configI} />

      {/* A */}
      <Label x={3} y={9} s={letter}>A</Label>
      <Label x={27} y={61} rot sx={0.8} s={{ fontFamily: SANS, fontSize: 13.5, color: '#222' }}>SNHG6 FPKM</Label>
      <Label x={52} y={91} s={{ fontFamily: SANS, fontSize: 6.5, color: '#2a3a50' }}>FPKM=1</Label>
      <Label x={185} y={32} s={{ fontFamily: SERIF, fontSize: 18, color: '#e02020' }}>Colon Adenocarcinoma</Label>

      {/* B */}
      <Label x={497} y={8} s={letter}>B</Label>
      <Label x={636} y={20} c s={{ fontFamily: SERIF, fontWeight: 'bold', fontSize: 10.5, color: '#111' }}>SNHG6 Expression in Hong Colorectal Statistics</Label>
      <Label x={499} y={113} rot s={{ fontFamily: SANS, fontSize: 5.8, color: '#444' }}>log2 median-centered intensity</Label>
      <Label x={524} y={42} s={{ fontFamily: SERIF, fontSize: 11.5, color: '#111' }}>Over-expression Gene Rank: Top 3%</Label>
      <Label x={660} y={155} s={{ fontFamily: SERIF, fontSize: 12.5, color: '#111' }}>P-value: 1.32E-12</Label>
      <Label x={660} y={173} s={{ fontFamily: SERIF, fontSize: 12.5, color: '#111' }}>Fold Change: 3.061</Label>
      <Label x={583} y={209} c s={{ fontFamily: SERIF, fontSize: 12.5, color: '#111' }}>Colon(12)</Label>
      <Label x={710} y={209} c s={{ fontFamily: SERIF, fontSize: 12.5, color: '#111' }}>Colorectal Carcinoma(70)</Label>

      {/* C */}
      <Label x={3} y={241} s={letter}>C</Label>
      <Label x={219} y={253} c s={{ fontFamily: OPEN, fontSize: 11, color: '#333' }}>Expression of SNHG6 in COAD based on Sample types</Label>
      <Label x={53} y={368} rot s={{ fontFamily: SANS, fontWeight: 'bold', fontSize: 8, color: '#222' }}>Transcript per million</Label>

      {/* D */}
      <Label x={411} y={241} s={letter}>D</Label>
      <Label x={575} y={254} c s={{ fontFamily: OPEN, fontSize: 11, color: '#333' }}>Expression of SNHG6 in READ based on Sample types</Label>
      <Label x={411} y={370} rot s={{ fontFamily: SANS, fontWeight: 'bold', fontSize: 8, color: '#222' }}>Transcript per million</Label>

      {/* E */}
      <Label x={2} y={504} s={letter}>E</Label>
      <Label x={26} y={600} rot s={{ fontFamily: SANS, fontWeight: 'bold', fontSize: 10, letterSpacing: 2, color: '#000' }}>expression of SNHG6</Label>
      <Label x={208} y={718} c s={{ fontFamily: SANS, fontWeight: 'bold', fontSize: 10, letterSpacing: 2.3, color: '#000' }}>GSE81861</Label>

      {/* F */}
      <Label x={411} y={504} s={letter}>F</Label>
      <Label x={576} y={512} c s={{ fontFamily: OPEN, fontSize: 11, color: '#555' }}>Expression distribution with t-SNE plot</Label>
      <Label x={401} y={621} rot s={{ fontFamily: OPEN, fontSize: 8, color: '#888' }}>tSNE2</Label>
      <Label x={571} y={738} c s={{ fontFamily: OPEN, fontSize: 8, color: '#888' }}>tSNE1</Label>
      {fLegendValues.map((v, i) => (
        <React.Fragment key={i}>
          <div style={{ position: 'absolute', left: 732, top: 590 + i * 12.6, width: 8, height: 12.6, background: fLegendColors[i] }} />
          <Label x={747} y={596.5 + i * 12.6} s={{ fontFamily: OPEN, fontSize: 8, color: '#888' }}>{v.toFixed(1)}</Label>
        </React.Fragment>
      ))}
      <Label x={731} y={682} s={{ fontFamily: OPEN, fontSize: 8, color: '#888' }}>Expression</Label>

      {/* G */}
      <Label x={2} y={751} s={letter}>G</Label>
      <Label x={143} y={788} c s={{ fontFamily: SERIF, fontSize: 17, color: '#111' }}>Relapsefree Survival</Label>
      <Label x={5} y={864} rot s={{ fontFamily: SANS, fontSize: 5.5, color: '#555' }}>relapsefree survival probability</Label>
      <Label x={30} y={934} sx={0.84} s={{ fontFamily: SANS, fontSize: 11, color: KM_RED }}>high (n=113</Label>
      <Label x={91} y={934} sx={0.84} s={{ fontFamily: SANS, fontSize: 11, color: '#333' }}>raw p 0.014</Label>
      <Label x={30} y={948} sx={0.84} s={{ fontFamily: SANS, fontSize: 11, color: KM_BLUE }}>low (n=113)</Label>
      <Label x={91} y={948} sx={0.84} s={{ fontFamily: SANS, fontSize: 11, color: '#333' }}>bonf p 1.000</Label>
      <Label x={134} y={975} c sx={0.84} s={{ fontFamily: SANS, fontSize: 7, color: '#333' }}>Follow up in months</Label>

      {/* H */}
      <Label x={262} y={751} s={letter}>H</Label>
      <Label x={399} y={792} c s={{ fontFamily: SERIF, fontSize: 17, color: '#111' }}>Relapsefree Survival</Label>
      <Label x={266} y={865} rot s={{ fontFamily: SANS, fontSize: 5.5, color: '#555' }}>relapsefree survival probability</Label>
      <Label x={288} y={932} sx={0.84} s={{ fontFamily: SANS, fontSize: 12, color: KM_RED }}>high (n=156)</Label>
      <Label x={367} y={932} sx={0.84} s={{ fontFamily: SANS, fontSize: 12, color: '#333' }}>raw p 0.035</Label>
      <Label x={288} y={946} sx={0.84} s={{ fontFamily: SANS, fontSize: 12, color: KM_BLUE }}>low (n=401)</Label>
      <Label x={367} y={946} sx={0.84} s={{ fontFamily: SANS, fontSize: 12, color: '#333' }}>bonf p 1.000</Label>
      <Label x={387} y={975} c sx={0.84} s={{ fontFamily: SANS, fontSize: 7, color: '#333' }}>Follow up in months</Label>

      {/* I */}
      <Label x={507} y={751} s={letter}>I</Label>
      <Label x={644} y={779} c s={{ fontFamily: SERIF, fontSize: 17, color: '#111' }}>Overall Survival</Label>
      <Label x={514} y={860} rot s={{ fontFamily: SANS, fontWeight: 'bold', fontSize: 13, color: '#000' }}>Overall survival</Label>
      <div style={{ position: 'absolute', left: 648, top: 791, width: 16, height: 1.5, background: '#19dfee' }} />
      <div style={{ position: 'absolute', left: 655.5, top: 789, width: 1.2, height: 4, background: '#19dfee' }} />
      <Label x={673} y={792} sx={0.86} s={{ fontFamily: SANS, fontSize: 11.5, color: '#111' }}>low expression</Label>
      <div style={{ position: 'absolute', left: 648, top: 811, width: 16, height: 1.5, background: '#e3161c' }} />
      <div style={{ position: 'absolute', left: 655.5, top: 809, width: 1.2, height: 4, background: '#e3161c' }} />
      <Label x={673} y={812} sx={0.86} s={{ fontFamily: SANS, fontSize: 11.5, color: '#111' }}>high expression</Label>
      <Label x={676} y={834} sx={0.86} s={{ fontFamily: SANS, fontSize: 11.5, color: '#111' }}>P=0.0162</Label>
      <Label x={645} y={983} c sx={0.76} s={{ fontFamily: SANS, fontWeight: 'bold', fontSize: 10, color: '#000' }}>Time(Months) after diagonosis</Label>
    </div>
  );
}
